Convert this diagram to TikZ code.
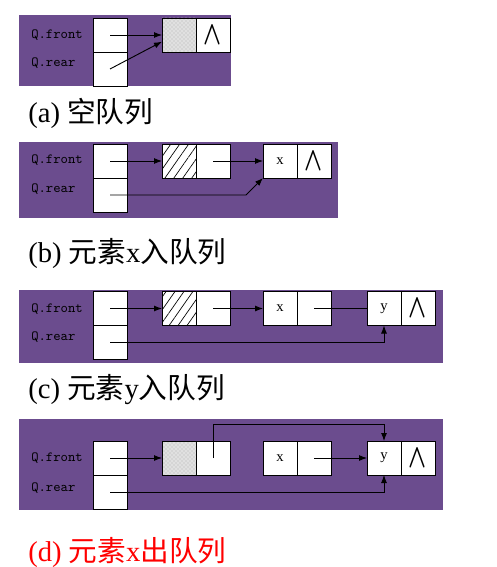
\documentclass[tikz,border=0pt]{standalone}
\usepackage{fontspec}
\setmainfont{Liberation Serif}
\newfontfamily\cjk{Noto Sans CJK SC}
\usepackage{graphicx}
\usetikzlibrary{arrows.meta,positioning,patterns,patterns.meta}
\definecolor{bgpurple}{HTML}{6B4C8E}
\definecolor{capred}{HTML}{FF0000}
\tikzset{
  bg/.style={fill=bgpurple, draw=none},
  cell/.style={draw=black, fill=white, line width=0.7pt, minimum width=25.5pt,
    minimum height=25.5pt, inner sep=0pt, outer sep=0pt},
  stip/.style={cell, preaction={fill=black!12}, pattern=crosshatch dots, pattern color=black!30},
  hatch/.style={cell, preaction={fill=white}, pattern={Lines[angle=55,distance=5.5pt,line width=0.5pt]},
    pattern color=black},
  ptr/.style={-{Latex[length=6pt,width=4.5pt]}, line width=0.7pt},
  link/.style={line width=0.7pt},
  lab/.style={anchor=west, inner sep=0pt, font=\ttfamily\fontsize{10.5}{12}\selectfont},
  val/.style={font=\fontsize{11}{13}\selectfont},
  capt/.style={anchor=west, inner sep=0pt, font=\fontsize{21.5}{25}\selectfont}
}
\newcommand{\nil}{\fontsize{20}{20}\selectfont\scalebox{0.85}[1.2]{\boldmath$\wedge$}}

\begin{document}
\begin{tikzpicture}[x=0.75pt, y=-0.75pt]
  \useasboundingbox (0,0) rectangle (496,567);

  % (a) empty queue
  \fill[bg] (19,15) rectangle (231,86);
  \node[lab] (qfa) at (31,35) {Q.front};
  \node[lab] (qra) at (31,63) {Q.rear};
  \node[cell] (fa) at (110,35) {};
  \node[cell, below=0pt of fa] (ra) {};
  \node[stip] (da) at (179,35) {};
  \node[cell, right=0pt of da] (na) {\nil};
  \draw[ptr] (fa.center) -- (da.west);
  \draw[ptr] (ra.center) -- ([yshift=-5pt]da.west);
  \node[capt] (capa) at (28,113) {(a) {\cjk 空队列}};

  % (b) x enters
  \fill[bg] (19,142) rectangle (338,218);
  \node[lab] (qfb) at (31,160) {Q.front};
  \node[lab] (qrb) at (31,189) {Q.rear};
  \node[cell] (fb) at (110,161) {};
  \node[cell, below=0pt of fb] (rb) {};
  \node[hatch] (db) at (179,161) {};
  \node[cell, right=0pt of db] (nb) {};
  \node[cell, val] (xb) at (280,161) {x};
  \node[cell, right=0pt of xb] (xnb) {\nil};
  \draw[ptr] (fb.center) -- (db.west);
  \draw[ptr] (nb.center) -- (xb.west);
  \draw[ptr] (rb.center) -- ++(136,0) -- (xb.south west);
  \node[capt] (capb) at (28,253) {(b) {\cjk 元素}x{\cjk 入队列}};

  % (c) y enters
  \fill[bg] (19,290) rectangle (443,363);
  \node[lab] (qfc) at (31,309) {Q.front};
  \node[lab] (qrc) at (31,337) {Q.rear};
  \node[cell] (fc) at (110,308.5) {};
  \node[cell, below=0pt of fc] (rc) {};
  \node[hatch] (dc) at (179,308.5) {};
  \node[cell, right=0pt of dc] (nc) {};
  \node[cell, val] (xc) at (280,308.5) {x};
  \node[cell, right=0pt of xc] (xnc) {};
  \node[cell, val] (yc) at (384,308.5) {y};
  \node[cell, right=0pt of yc] (ync) {\nil};
  \draw[ptr] (fc.center) -- (dc.west);
  \draw[ptr] (nc.center) -- (xc.west);
  \draw[link] (xnc.center) -- (yc.west);
  \draw[ptr] (rc.center) -| (yc.south);
  \node[capt] (capc) at (28,390) {(c) {\cjk 元素}y{\cjk 入队列}};

  % (d) x leaves
  \fill[bg] (19,419) rectangle (443,510);
  \node[lab] (qfd) at (31,458) {Q.front};
  \node[lab] (qrd) at (31,488) {Q.rear};
  \node[cell] (fd) at (110,458) {};
  \node[cell, below=0pt of fd] (rd) {};
  \node[stip] (dd) at (179,458) {};
  \node[cell, right=0pt of dd] (nd) {};
  \node[cell, val] (xd) at (280,458) {x};
  \node[cell, right=0pt of xd] (xnd) {};
  \node[cell, val] (yd) at (384,458) {y};
  \node[cell, right=0pt of yd] (ynd) {\nil};
  \draw[ptr] (fd.center) -- (dd.west);
  \draw[ptr] (nd.center) -- ++(0,-34) -| (yd.north);
  \draw[ptr] (xnd.center) -- (yd.west);
  \draw[ptr] (rd.center) -| (yd.south);
  \node[capt, text=capred] (capd) at (28,552) {(d) {\cjk 元素}x{\cjk 出队列}};
\end{tikzpicture}
\end{document}
